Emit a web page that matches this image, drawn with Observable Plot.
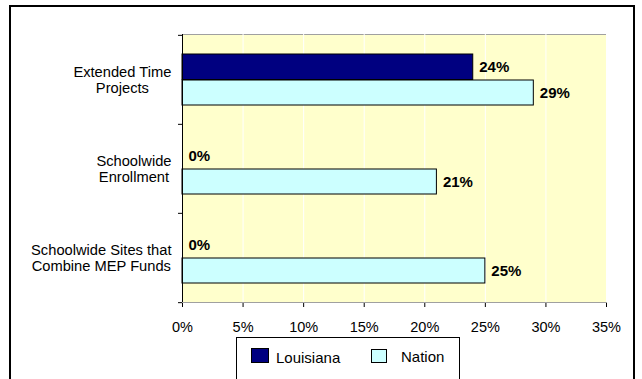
<!DOCTYPE html>
<html><head><meta charset="utf-8">
<script src="https://cdn.jsdelivr.net/npm/d3@7"></script>
<script src="https://cdn.jsdelivr.net/npm/@observablehq/plot@0.6"></script>
<style>
body{margin:0;background:#fff;font-family:"Liberation Sans",Arial,sans-serif;}
#wrap{position:relative;width:642px;height:379px;overflow:hidden;}
#chart svg{display:block;}
#border{position:absolute;left:9px;top:5px;width:622px;height:420px;border:2px solid #000;pointer-events:none;}
#legend{position:absolute;left:236px;top:337px;width:222px;height:60px;border:1px solid #000;background:#fff;}
.sw{position:absolute;border:1px solid #000;}
.lt{position:absolute;font-size:15px;line-height:17px;color:#000;white-space:nowrap;}
</style>
</head><body>
<div id="wrap">
  <div id="chart"></div>
  <div id="legend"></div>
  <div id="border"></div>
</div>
<script>
const categories = ["Extended Time\nProjects", "Schoolwide\nEnrollment", "Schoolwide Sites that\nCombine MEP Funds"];
const seriesNames = ["Louisiana", "Nation"];
const louisiana = [24, 0, 0];
const nation = [29, 21, 25];
const xTicks = [0, 5, 10, 15, 20, 25, 30, 35];
const colors = ["#000080", "#ccffff"];

const rows = categories.map((c, i) => ({category: c, louisiana: louisiana[i], nation: nation[i]}));

const W = 642, H = 337, mT = 34, mB = 35, mL = 182, mR = 36;
const step = (H - mT - mB) / categories.length;
const catFont = 14.7;

const ctx = document.createElement("canvas").getContext("2d");
ctx.font = catFont + "px 'Liberation Sans'";
const labelMarks = categories.map(c => {
  const w = Math.max(...c.split("\n").map(s => ctx.measureText(s).width));
  return Plot.text([c], {y: d => d, text: d => d, frameAnchor: "left", textAnchor: "middle",
    dx: -(11 + w / 2), lineHeight: 1.06, fontSize: catFont, fill: "#000"});
});

const chart = Plot.plot({
  width: W, height: H, marginTop: mT, marginBottom: mB, marginLeft: mL, marginRight: mR,
  style: {fontFamily: "'Liberation Sans', Arial, sans-serif", fontSize: "14.5px", color: "#000", background: "transparent"},
  x: {domain: [0, 35], ticks: xTicks, tickFormat: d => d + "%", tickSize: 5, tickPadding: 14, line: true, label: null},
  y: {domain: categories, padding: 0, label: null},
  marks: [
    Plot.frame({fill: "#ffffcc", stroke: "#a0a0a0"}),
    Plot.gridX(xTicks, {stroke: "#fff", strokeOpacity: 1}),
    Plot.barX(rows, {x: "louisiana", y: "category", fill: colors[0], stroke: "#000", insetTop: 19, insetBottom: 44.5}),
    Plot.barX(rows, {x: "nation", y: "category", fill: colors[1], stroke: "#000", insetTop: 45, insetBottom: 19}),
    Plot.ruleX([0], {stroke: "#000"}),
    Plot.axisY({tickFormat: () => "", tickSize: 4, dy: -step / 2, label: null}),
    Plot.axisY([categories[categories.length - 1]], {tickFormat: () => "", tickSize: 4, dy: step / 2, label: null}),
    Plot.text(rows, {x: "louisiana", y: "category", text: d => d.louisiana + "%", dx: 6, dy: -13, textAnchor: "start", fontWeight: "bold", fontSize: 15, fill: "#000"}),
    Plot.text(rows, {x: "nation", y: "category", text: d => d.nation + "%", dx: 6, dy: 13, textAnchor: "start", fontWeight: "bold", fontSize: 15, fill: "#000"}),
    ...labelMarks
  ]
});
document.getElementById("chart").appendChild(chart);

const legend = document.getElementById("legend");
const items = [
  {sw: [14, 10, 16, 13], tx: [39, 11]},
  {sw: [134, 11, 14, 12], tx: [164, 10]}
];
seriesNames.forEach((name, i) => {
  const s = document.createElement("div");
  s.className = "sw";
  const [l, t, w, h] = items[i].sw;
  Object.assign(s.style, {left: l + "px", top: t + "px", width: w + "px", height: h + "px", background: colors[i]});
  legend.appendChild(s);
  const tx = document.createElement("div");
  tx.className = "lt";
  tx.textContent = name;
  Object.assign(tx.style, {left: items[i].tx[0] + "px", top: items[i].tx[1] + "px"});
  legend.appendChild(tx);
});
</script>
</body></html>
